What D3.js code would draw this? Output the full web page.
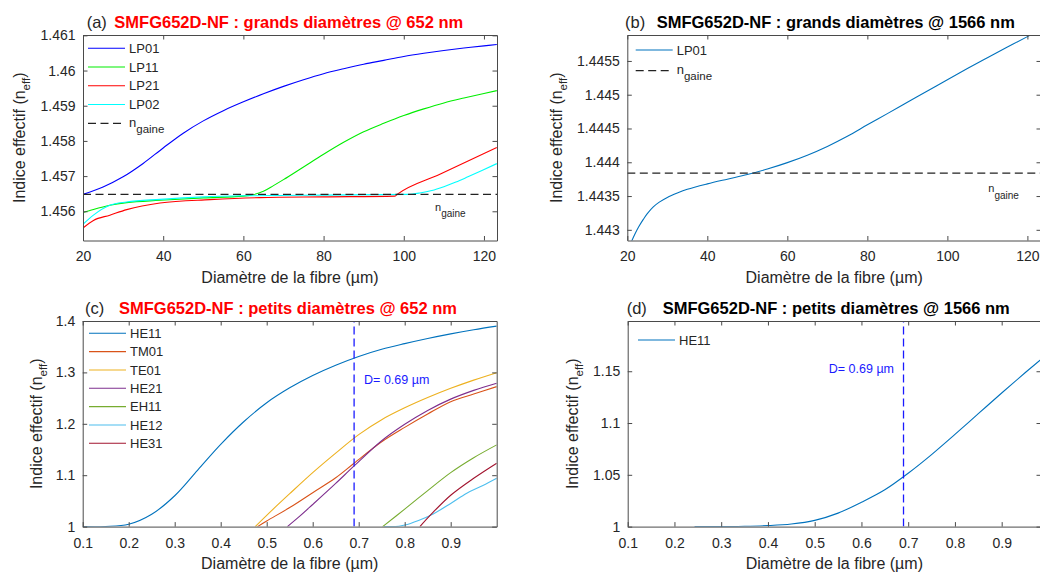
<!DOCTYPE html>
<html><head><meta charset="utf-8">
<script src="https://cdn.jsdelivr.net/npm/d3@7"></script>
<style>
body{margin:0;background:#fff;overflow:hidden;}
svg{display:block;font-family:"Liberation Sans",Arial,Helvetica,sans-serif;}
</style></head><body>
<svg id="chart" width="1040" height="573"></svg>
<script>
// ---------------- DATA ----------------
// (a) grands diamètres @ 652 nm
const aLP01X = [20,25,30,35,40,45,50,55,60,65,70,75,80,85,90,95,100,105,110,115,120,123.2];
const aLP01Y = [1.45648,1.45669,1.45698,1.45736,1.45780,1.45822,1.45857,1.45886,1.45911,1.45934,1.45955,1.45974,1.45991,1.46005,1.46018,1.46029,1.46040,1.46049,1.46057,1.46064,1.46070,1.46074];
const aLP11X = [20,22.6,26.7,30.9,39.2,50,60,62,65,67.5,70,75,80,85,90,95,100,105,110,115,120,123.2];
const aLP11Y = [1.455962,1.45605,1.45617,1.456247,1.456312,1.45638,1.45643,1.45646,1.45657,1.45673,1.45690,1.45726,1.45762,1.45796,1.45826,1.45850,1.45872,1.45891,1.45908,1.45922,1.45935,1.45943];
const aLP21X = [20,22.6,26.7,30.9,39.2,51.7,64.1,80,97.8,98.5,109,123.2];
const aLP21Y = [1.455526,1.45574,1.45589,1.456048,1.456236,1.456332,1.456389,1.45641,1.45643,1.45649,1.45705,1.45781];
const aLP02X = [20,22.6,26.7,30.9,39.2,50,60,80,101,104,107,110,113,116,119.5,123.2];
const aLP02Y = [1.45563,1.45589,1.45617,1.456265,1.45634,1.45641,1.45644,1.45646,1.45648,1.45652,1.45659,1.4567,1.45683,1.45698,1.45716,1.457355];
const aNgaine = 1.45648;
const aXTicks = [20,40,60,80,100,120];
const aYTicks = [1.456,1.457,1.458,1.459,1.46,1.461];
const aNames = ["LP01","LP11","LP21","LP02"];

// (b) grands diamètres @ 1566 nm
const bLP01X = [20,21,22,23,24,25,26.5,28,30,32.5,35,40,45,50,55,60,65,70,75,80,85,90,95,100,105,110,115,120,123.4];
const bLP01Y = [1.44267,1.44282,1.44295,1.44306,1.443155,1.44324,1.44334,1.44341,1.44348,1.443545,1.4436,1.44368,1.44375,1.443818,1.4439,1.443995,1.444105,1.444235,1.444385,1.444554,1.44472,1.444888,1.445055,1.445223,1.445388,1.445548,1.445706,1.44586,1.445965];
const bNgaine = 1.44384;
const bXTicks = [20,40,60,80,100,120];
const bYTicks = [1.443,1.4435,1.444,1.4445,1.445,1.4455];

// (c) petits diamètres @ 652 nm
const cHE11X = [0.1,0.15,0.2,0.25,0.3,0.35,0.4,0.45,0.5,0.55,0.6,0.65,0.7,0.75,0.8,0.85,0.9,0.95,1.0];
const cHE11Y = [1.0,1.0002,1.0045,1.024,1.06,1.11,1.16,1.204,1.241,1.27,1.294,1.314,1.331,1.345,1.356,1.366,1.375,1.383,1.39];
const cTM01X = [0.48,0.5,0.55,0.6,0.65,0.69,0.75,0.8,0.85,0.9,0.95,1.0];
const cTM01Y = [1.0,1.011,1.037,1.066,1.095,1.1233,1.165,1.193,1.219,1.243,1.258,1.2723];
const cTE01X = [0.475,0.5,0.55,0.6,0.65,0.7,0.75,0.8,0.85,0.9,0.95,1.0];
const cTE01Y = [1.0,1.022,1.064,1.105,1.143,1.179,1.208,1.231,1.251,1.269,1.285,1.2995];
const cHE21X = [0.545,0.5725,0.6,0.65,0.69,0.75,0.8,0.85,0.9,0.95,1.0];
const cHE21Y = [1.0,1.0208,1.043,1.084,1.118,1.167,1.199,1.226,1.248,1.265,1.279];
const cEH11X = [0.752,0.8,0.85,0.9,0.95,1.0];
const cEH11Y = [1.0,1.034,1.07,1.105,1.134,1.159];
const cHE12X = [0.755,0.78,0.8,0.83,0.862,0.9,0.935,0.97,1.0];
const cHE12Y = [1.0,1.0,1.003,1.012,1.0247,1.045,1.065,1.08,1.094];
const cHE31X = [0.833,0.862,0.9,0.95,1.0];
const cHE31Y = [1.0,1.028,1.061,1.094,1.1233];
const cNames = ["HE11","TM01","TE01","HE21","EH11","HE12","HE31"];
const cXTicks = [0.1,0.2,0.3,0.4,0.5,0.6,0.7,0.8,0.9];
const cYTicks = [1,1.1,1.2,1.3,1.4];

// (d) petits diamètres @ 1566 nm
const dHE11X = [0.243,0.3,0.35,0.4,0.45,0.5,0.55,0.6,0.65,0.7,0.75,0.8,0.85,0.9,0.95,1.0];
const dHE11Y = [1.0,1.0,1.0003,1.001,1.0025,1.006,1.013,1.0235,1.0355,1.0515,1.0695,1.089,1.109,1.129,1.1485,1.1675];
const dXTicks = [0.1,0.2,0.3,0.4,0.5,0.6,0.7,0.8,0.9];
const dYTicks = [1,1.05,1.1,1.15];

const markerD = 0.69;
const markerLabel = "D= 0.69 µm";

// ---------------- DRAWING ----------------
const svg = d3.select("#chart");
const TXT = "#262626", AX = "#4a4a4a";
const matlab = ["#0072BD","#D95319","#EDB120","#7E2F8E","#77AC30","#4DBEEE","#A2142F"];
const fmt = v => String(+v.toFixed(6));
const SMOOTH = d3.curveCatmullRom.alpha(0.5);
const KINKED = d3.curveMonotoneX;

function zip(xs, ys){ return xs.map((x,i)=>({x, y: ys[i]})); }

function makePanel(cfg){
  const x = d3.scaleLinear().domain(cfg.xd).range([cfg.l, cfg.r]);
  const y = d3.scaleLinear().domain(cfg.yd).range([cfg.b, cfg.t]);
  const id = "clip_" + cfg.id;
  svg.append("clipPath").attr("id", id).append("rect")
    .attr("x", cfg.l).attr("y", cfg.t).attr("width", cfg.r - cfg.l).attr("height", cfg.b - cfg.t);
  const plot = svg.append("g").attr("clip-path", `url(#${id})`);
  const g = svg.append("g");

  const tl = 4.5;
  const ax = g.append("g").attr("transform", `translate(0,${cfg.b})`)
    .call(d3.axisBottom(x).tickValues(cfg.xt).tickFormat(fmt).tickSizeInner(-tl).tickSizeOuter(0).tickPadding(11));
  const ay = g.append("g").attr("transform", `translate(${cfg.l},0)`)
    .call(d3.axisLeft(y).tickValues(cfg.yt).tickFormat(fmt).tickSizeInner(-tl).tickSizeOuter(0).tickPadding(7.5));
  const at = g.append("g").attr("transform", `translate(0,${cfg.t})`)
    .call(d3.axisTop(x).tickValues(cfg.xt).tickFormat("").tickSizeInner(-tl).tickSizeOuter(0));
  const ar = g.append("g").attr("transform", `translate(${cfg.r},0)`)
    .call(d3.axisRight(y).tickValues(cfg.yt).tickFormat("").tickSizeInner(-tl).tickSizeOuter(0));
  [ax, ay, at, ar].forEach(a => {
    a.selectAll(".domain").attr("stroke", AX).attr("stroke-width", 1);
    a.selectAll(".tick line").attr("stroke", AX).attr("stroke-width", 1);
    a.selectAll(".tick text").attr("fill", TXT).attr("font-size", 14).attr("font-family", null);
  });

  g.append("text").attr("x", (cfg.l + cfg.r) / 2).attr("y", cfg.b + 42)
    .attr("text-anchor", "middle").attr("font-size", 16).attr("fill", TXT)
    .text("Diamètre de la fibre (µm)");
  const yl = g.append("text")
    .attr("transform", `translate(${cfg.l - cfg.ylOff},${(cfg.t + cfg.b) / 2}) rotate(-90)`)
    .attr("text-anchor", "middle").attr("font-size", 16).attr("fill", TXT);
  yl.append("tspan").text("Indice effectif (n");
  yl.append("tspan").attr("font-size", 11.5).attr("dy", 5).text("eff");
  yl.append("tspan").attr("dy", -5).text(")");

  g.append("text").attr("x", cfg.l + cfg.tagDx).attr("y", cfg.t + cfg.titleDy)
    .attr("font-size", 16.5).attr("fill", TXT).text(cfg.tag);
  g.append("text").attr("x", cfg.l + cfg.titleDx).attr("y", cfg.t + cfg.titleDy)
    .attr("font-size", 16.5).attr("font-weight", "bold").attr("fill", cfg.titleColor).text(cfg.title);

  return {x, y, plot, g};
}

function nGaine(sel, x, y, fs, subfs, sdy){
  const t = sel.append("text").attr("x", x).attr("y", y).attr("font-size", fs).attr("fill", TXT);
  t.append("tspan").text("n");
  t.append("tspan").attr("font-size", subfs).attr("dy", sdy).text("gaine");
}

function drawLines(P, series){
  series.forEach(s => {
    const line = d3.line().x(d => P.x(d.x)).y(d => P.y(d.y)).curve(s.curve || SMOOTH);
    P.plot.append("path").datum(zip(s.xs, s.ys)).attr("d", line)
      .attr("fill", "none").attr("stroke", s.color).attr("stroke-width", 1.1);
  });
}

function legend(P, x0, y0, dy, entries){
  entries.forEach((e, i) => {
    const yy = y0 + i * dy;
    P.g.append("line").attr("x1", x0).attr("x2", x0 + 37).attr("y1", yy).attr("y2", yy)
      .attr("stroke", e.color).attr("stroke-width", e.dash ? 1.3 : 1.1)
      .attr("stroke-dasharray", e.dash ? "8,4.5" : null);
    if (e.ngaine) {
      nGaine(P.g, x0 + 41, yy + 3.4, 13, 11.5, 6.3);
    } else {
      P.g.append("text").attr("x", x0 + 41).attr("y", yy).attr("dy", "0.36em")
        .attr("font-size", 13).attr("fill", TXT).text(e.name);
    }
  });
}

// ---- Panel (a)
const A = makePanel({id:"a", l:83, r:497, t:35, b:240.5, xd:[20,123.25], yd:[1.45517,1.46101],
  xt:aXTicks, yt:aYTicks, ylOff:58.5, tag:"(a)", tagDx:3.7, titleDx:31.3, titleDy:-7.5,
  title:"SMFG652D-NF : grands diamètres @ 652 nm", titleColor:"#ff0000"});
const aColors = ["#0000ff","#00ee00","#ff0000","#00ffff"];
drawLines(A, [
  {xs:aLP01X, ys:aLP01Y, color:aColors[0]},
  {xs:aLP11X, ys:aLP11Y, color:aColors[1], curve:KINKED},
  {xs:aLP21X, ys:aLP21Y, color:aColors[2], curve:KINKED},
  {xs:aLP02X, ys:aLP02Y, color:aColors[3], curve:KINKED}
]);
A.plot.append("line").attr("x1", A.x(20)).attr("x2", A.x(123.25)).attr("y1", A.y(aNgaine)).attr("y2", A.y(aNgaine))
  .attr("stroke", "#222").attr("stroke-width", 1.3).attr("stroke-dasharray", "8,4.5");
nGaine(A.g, 435, A.y(aNgaine) + 16.5, 11, 10, 6.5);
legend(A, 88, 48.3, 18.75, aNames.map((n,i)=>({name:n, color:aColors[i]})).concat([{ngaine:true, dash:true, color:"#222"}]));

// ---- Panel (b)
const B = makePanel({id:"b", l:627.3, r:1041, t:35, b:240.5, xd:[20,123.4], yd:[1.442842,1.445884],
  xt:bXTicks, yt:bYTicks, ylOff:65, tag:"(b)", tagDx:-2.3, titleDx:29.4, titleDy:-7.5,
  title:"SMFG652D-NF : grands diamètres @ 1566 nm", titleColor:"#000000"});
drawLines(B, [{xs:bLP01X, ys:bLP01Y, color:matlab[0]}]);
B.plot.append("line").attr("x1", B.x(20)).attr("x2", B.x(123.4)).attr("y1", B.y(bNgaine)).attr("y2", B.y(bNgaine))
  .attr("stroke", "#222").attr("stroke-width", 1.3).attr("stroke-dasharray", "8,4.5");
nGaine(B.g, 988.3, B.y(bNgaine) + 18.5, 11, 10, 7);
legend(B, 635.7, 50, 20.7, [{name:"LP01", color:matlab[0]}, {ngaine:true, dash:true, color:"#222"}]);

// ---- Panel (c)
const C = makePanel({id:"c", l:82.7, r:496.7, t:321, b:526.6, xd:[0.1,1.0], yd:[1,1.4],
  xt:cXTicks, yt:cYTicks, ylOff:41.2, tag:"(c)", tagDx:2.3, titleDx:36.3, titleDy:-7.5,
  title:"SMFG652D-NF : petits diamètres @ 652 nm", titleColor:"#ff0000"});
drawLines(C, [
  {xs:cHE11X, ys:cHE11Y, color:matlab[0]},
  {xs:cTM01X, ys:cTM01Y, color:matlab[1]},
  {xs:cTE01X, ys:cTE01Y, color:matlab[2]},
  {xs:cHE21X, ys:cHE21Y, color:matlab[3]},
  {xs:cEH11X, ys:cEH11Y, color:matlab[4]},
  {xs:cHE12X, ys:cHE12Y, color:matlab[5], curve:KINKED},
  {xs:cHE31X, ys:cHE31Y, color:matlab[6]}
]);
C.plot.append("line").attr("x1", C.x(markerD)).attr("x2", C.x(markerD)).attr("y1", C.y(1)).attr("y2", C.y(1.4))
  .attr("stroke", "#1a1aff").attr("stroke-width", 1.3).attr("stroke-dasharray", "8,4");
C.g.append("text").attr("x", C.x(markerD) + 10).attr("y", 383.5).attr("font-size", 12.5).attr("fill", "#1a1aff").text(markerLabel);
legend(C, 89, 333.3, 18.33, cNames.map((n,i)=>({name:n, color:matlab[i]})));

// ---- Panel (d)
const D = makePanel({id:"d", l:627.7, r:1041, t:321, b:526.6, xd:[0.1,0.9841], yd:[1,1.1985],
  xt:dXTicks, yt:dYTicks, ylOff:49.7, tag:"(d)", tagDx:-1, titleDx:35, titleDy:-7,
  title:"SMFG652D-NF : petits diamètres @ 1566 nm", titleColor:"#000000"});
drawLines(D, [{xs:dHE11X, ys:dHE11Y, color:matlab[0], curve:KINKED}]);
D.plot.append("line").attr("x1", D.x(markerD)).attr("x2", D.x(markerD)).attr("y1", D.y(1)).attr("y2", D.y(1.1985))
  .attr("stroke", "#1a1aff").attr("stroke-width", 1.3).attr("stroke-dasharray", "8,4");
D.g.append("text").attr("x", D.x(markerD) - 9.5).attr("y", 373.3).attr("text-anchor", "end")
  .attr("font-size", 12.5).attr("fill", "#1a1aff").text(markerLabel);
legend(D, 638, 340, 18, [{name:"HE11", color:matlab[0]}]);
</script>
</body></html>
